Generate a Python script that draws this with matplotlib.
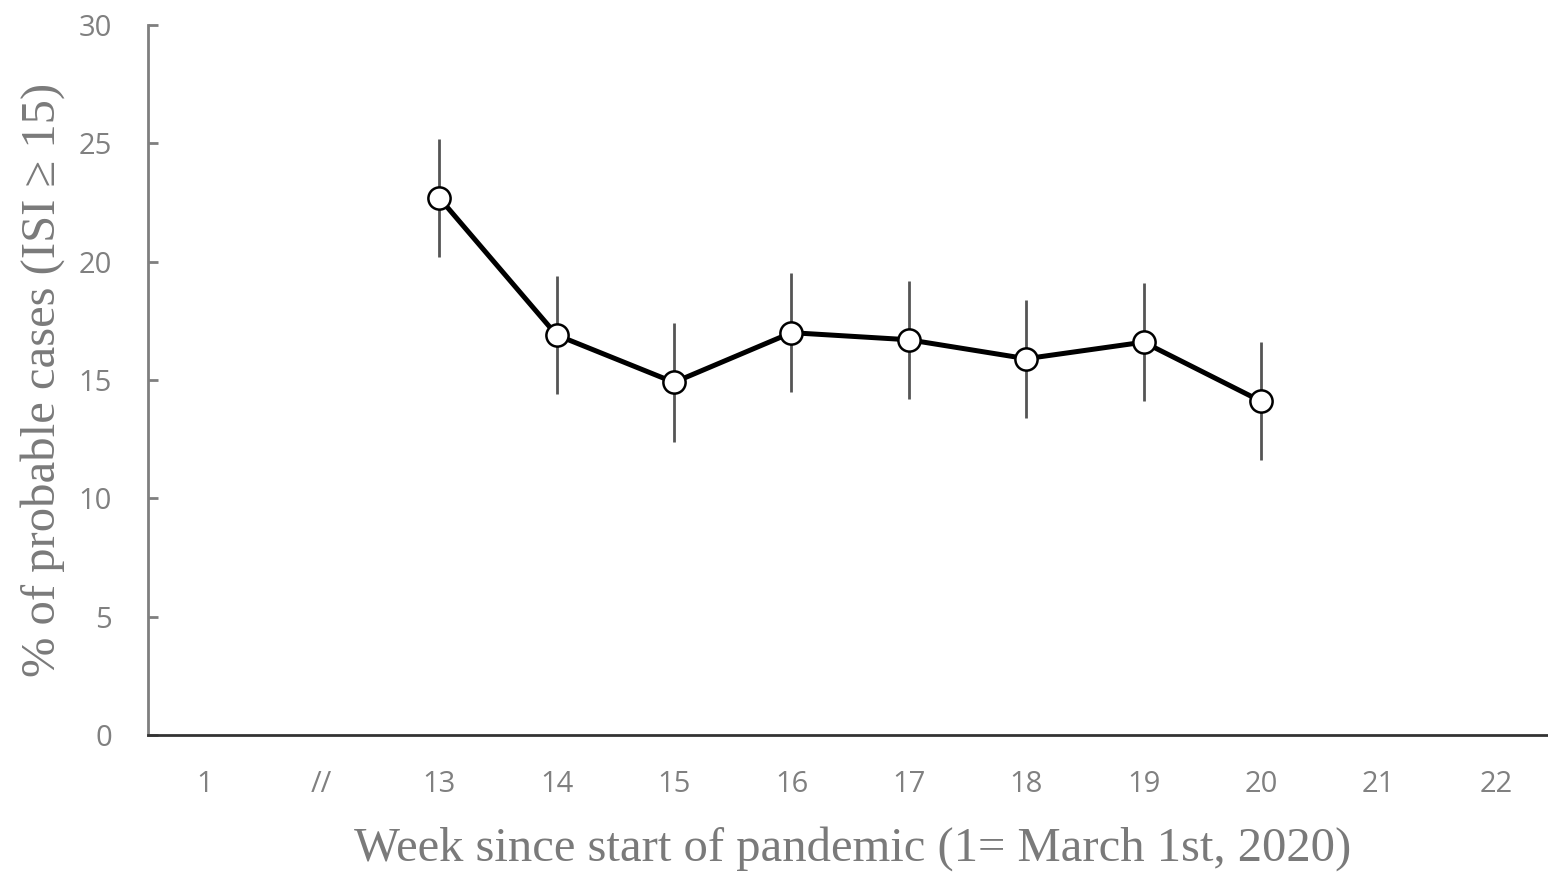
import numpy as np
import matplotlib.pyplot as plt

weeks = ['1', '//', '13', '14', '15', '16', '17', '18', '19', '20', '21', '22']
pct = [np.nan, np.nan, 22.7, 16.9, 14.9, 17.0, 16.7, 15.9, 16.6, 14.1, np.nan, np.nan]
err = [0, 0, 2.5, 2.5, 2.5, 2.5, 2.5, 2.5, 2.5, 2.5, 0, 0]

fig = plt.figure(figsize=(15.48, 8.72), dpi=100)
ax = fig.add_axes([148/1548, 137/872, 1409/1548, 710/872])

x = np.arange(len(weeks))
ax.errorbar(x, pct, yerr=err, fmt='none', ecolor='#555555', elinewidth=2, capsize=0, zorder=2)
ax.plot(x, pct, '-o', color='black', lw=3.6, ms=16, mfc='white', mec='black', mew=1.8, zorder=3)

ax.set_xlim(-0.48, 11.52)
ax.set_ylim(0, 30)
ax.set_yticks([0, 5, 10, 15, 20, 25, 30])
ax.set_xticks(x)
ax.set_xticklabels(weeks)

for s in ['top', 'right']:
    ax.spines[s].set_visible(False)
ax.spines['left'].set_color('#7f7f7f')
ax.spines['left'].set_linewidth(2)
ax.spines['bottom'].set_color('#333333')
ax.spines['bottom'].set_linewidth(2)

ax.tick_params(axis='y', direction='in', length=7, width=2, color='#7f7f7f',
               labelsize=21, labelcolor='#808080', pad=26)
ax.tick_params(axis='x', length=0, labelsize=21, labelcolor='#808080', pad=25)
for lab in ax.get_xticklabels() + ax.get_yticklabels():
    lab.set_family('Open Sans')

ax.set_xlabel('Week since start of pandemic (1= March 1st, 2020)', family='Liberation Serif',
              fontsize=35, color='#7a7a7a', labelpad=20)
ax.set_ylabel('% of probable cases (ISI ≥ 15)', family='Liberation Serif',
              fontsize=35, color='#7a7a7a', labelpad=10)

fig.savefig('out.png', dpi=100)
